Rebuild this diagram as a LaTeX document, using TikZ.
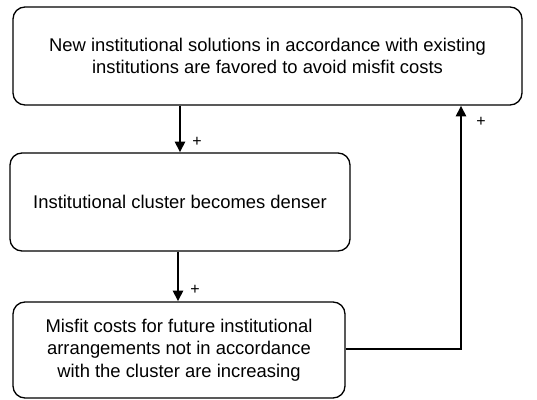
\documentclass[tikz,border=0pt]{standalone}
\usepackage{fontspec}
\setmainfont{Liberation Sans}
\usetikzlibrary{arrows.meta}
\begin{document}
\begin{tikzpicture}[x=0.75pt,y=-0.75pt,
  box/.style={draw, line width=1pt, rounded corners=9pt, align=center, inner sep=0pt,
    font=\fontsize{13.8}{16.7}\selectfont},
  conn/.style={line width=1.6pt, -{Triangle[length=8pt,width=7.5pt]}},
  plus/.style={font=\fontsize{12}{14}\selectfont, inner sep=0pt}]
\useasboundingbox (0,0) rectangle (537,400);
\node[box, minimum width=381.75pt, minimum height=73.5pt] (a) at (267.5,56) {New institutional solutions in accordance with existing\\institutions are favored to avoid misfit costs};
\node[box, minimum width=255pt, minimum height=73.5pt] (b) at (180,202) {Institutional cluster becomes denser};
\node[box, minimum width=249pt, minimum height=72pt] (c) at (179,350) {Misfit costs for future institutional\\arrangements not in accordance\\with the cluster are increasing};
\draw[conn] (a.south -| 180,0) -- (b.north -| 180,0);
\draw[conn] (b.south -| 178,0) -- (c.north -| 178,0);
\coordinate (k) at (461,349);
\draw[conn] (c.east |- k) -- (k) -- (a.south -| k);
\node[plus] (p1) at (197,142) {+};
\node[plus] (p2) at (195,290) {+};
\node[plus] (p3) at (481,122) {+};
\end{tikzpicture}
\end{document}
